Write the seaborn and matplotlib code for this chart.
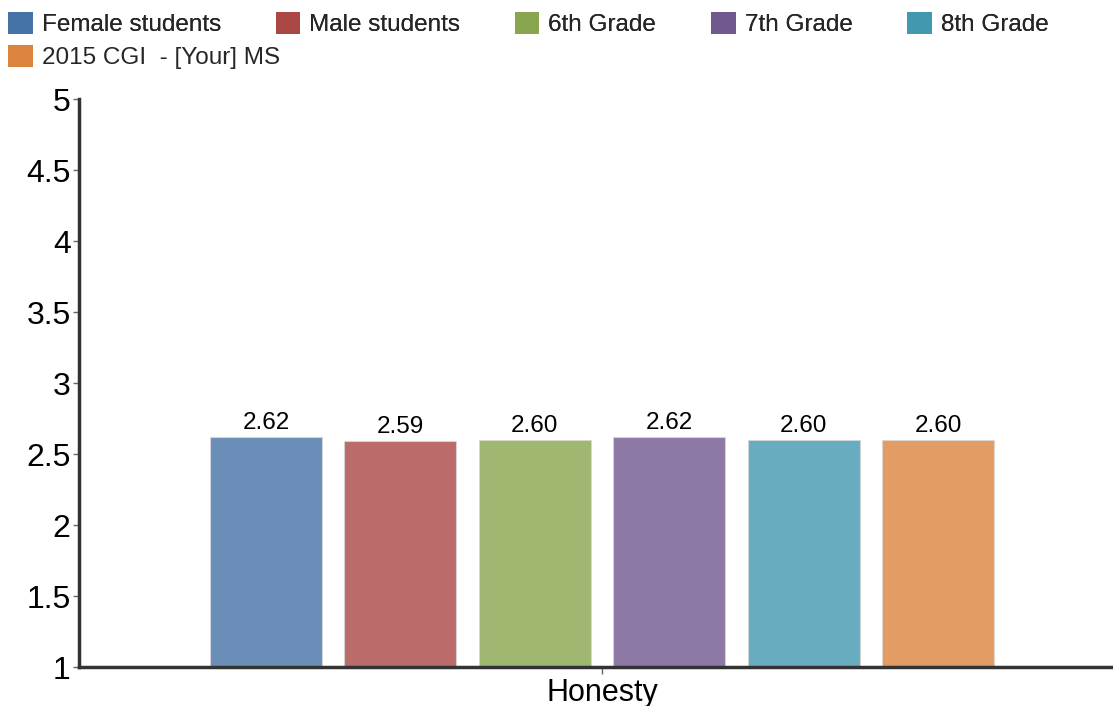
import pandas as pd
import numpy as np
import matplotlib
matplotlib.use("Agg")
import matplotlib.pyplot as plt
import seaborn as sns
from matplotlib.patches import Patch

categories = ["Honesty"]
groups = ["Female students", "Male students", "6th Grade", "7th Grade", "8th Grade", "2015 CGI  - [Your] MS"]
values = [2.62, 2.59, 2.60, 2.62, 2.60, 2.60]
legend_colors = ["#4572A7", "#AA4643", "#89A54E", "#71588F", "#4198AF", "#DB843D"]
y_ticks = [1, 1.5, 2, 2.5, 3, 3.5, 4, 4.5, 5]
y_tick_labels = ["1", "1.5", "2", "2.5", "3", "3.5", "4", "4.5", "5"]

df = pd.DataFrame({
    "category": categories * len(groups),
    "group": groups,
    "value": values,
})

sns.set_theme(style="white")
plt.rcParams["font.family"] = ["Liberation Sans", "DejaVu Sans"]

fig = plt.figure(figsize=(11.13, 7.06), dpi=100)
ax = fig.add_axes([0.071, 0.0552, 0.929, 0.8045])

sns.barplot(data=df, x="category", y="value", hue="group", hue_order=groups,
            palette=legend_colors, saturation=1, width=0.78, gap=0.167, alpha=0.8,
            edgecolor="#d8d8d8", linewidth=0.8, legend=False, ax=ax)

for c in ax.containers:
    ax.bar_label(c, fmt="%.2f", padding=2, fontsize=17.5, color="black")

ax.set_ylim(1, 5)
ax.set_xlim(-0.5058, 0.4942)
ax.set_yticks(y_ticks)
ax.set_yticklabels(y_tick_labels)
ax.set_xlabel("")
ax.set_ylabel("")
ax.tick_params(axis="y", labelsize=23, length=4, width=1, color="#666666", left=True, pad=2, labelcolor="black")
ax.tick_params(axis="x", labelsize=22, length=5, width=1, color="#666666", bottom=True, pad=3, labelcolor="black")

for side in ["top", "right"]:
    ax.spines[side].set_visible(False)
for side in ["left", "bottom"]:
    ax.spines[side].set_color("#333333")
    ax.spines[side].set_linewidth(2.5)

# legend laid out in rows: 5 items on the first row, the last one below
handles = [Patch(facecolor=c, edgecolor="none") for c in legend_colors]
leg_kw = dict(loc="upper left", frameon=False, fontsize=17.5, handlelength=1.0,
              handleheight=1.0, handletextpad=0.37, columnspacing=2.26, borderaxespad=0)
top = 1.0035 - 5 / 706
left = -0.0025 + 1.5 / 1113
leg1 = fig.legend(handles[:5], groups[:5], ncol=5, bbox_to_anchor=(left, top), **leg_kw)
fig.add_artist(leg1)
fig.legend(handles[5:], groups[5:], ncol=1, bbox_to_anchor=(left, top - 33 / 706), **leg_kw)

fig.savefig("out.png", dpi=100)
